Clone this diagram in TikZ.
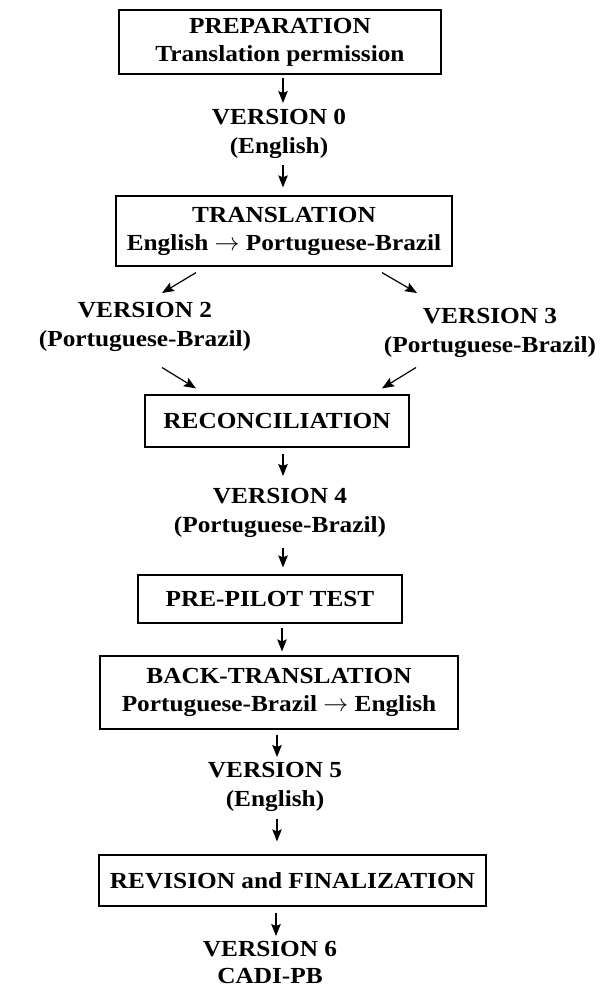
\documentclass[tikz,border=0pt]{standalone}
\usepackage{fontspec}
\setmainfont{Liberation Serif}[FakeStretch=1.1]
\usetikzlibrary{arrows.meta,calc}
\tikzset{
  box/.style={draw, line width=1.2pt, rectangle, align=center, inner sep=0pt, font=\fontsize{23}{28}\selectfont\bfseries},
  lbl/.style={align=center, inner sep=0pt, anchor=north, font=\fontsize{23}{29}\selectfont\bfseries},
  arr/.style={line width=1.2pt, -{Stealth[length=12pt,width=9.5pt,inset=2pt]}}
}
\begin{document}
\begin{tikzpicture}[x=1pt,y=-1pt]
\useasboundingbox (0,0) rectangle (600,990);
\node[box, minimum width=322pt, minimum height=64pt] (prep) at (280,42) {PREPARATION\\Translation permission};
\node[lbl] (v0) at (279,109.5) {VERSION 0\\(English)};
\node[box, minimum width=336pt, minimum height=70pt] (trans) at (284,231) {TRANSLATION\\English $\rightarrow$ Portuguese-Brazil};
\node[lbl] (v2) at (145,302.5) {VERSION 2\\(Portuguese-Brazil)};
\node[lbl] (v3) at (490,308.5) {VERSION 3\\(Portuguese-Brazil)};
\node[box, minimum width=264pt, minimum height=52pt] (rec) at (277,421) {RECONCILIATION};
\node[lbl] (v4) at (280,488.5) {VERSION 4\\(Portuguese-Brazil)};
\node[box, minimum width=264pt, minimum height=48pt] (pre) at (270,599) {PRE-PILOT TEST};
\node[box, minimum width=358pt, minimum height=73pt] (back) at (279,692.5) {BACK-TRANSLATION\\Portuguese-Brazil $\rightarrow$ English};
\node[lbl] (v5) at (275,762.5) {VERSION 5\\(English)};
\node[box, minimum width=387pt, minimum height=51pt] (rev) at (292.5,880.5) {REVISION and FINALIZATION};
\node[lbl, font=\fontsize{23}{27.5}\selectfont\bfseries] (v6) at (270,941) {VERSION 6\\CADI-PB};

\draw[arr] ($(prep.south)+(3,3)$) -- ($(v0.north)+(4,-6.5)$);
\draw[arr] ($(v0.south)+(4,6)$) -- ($(trans.north)+(-1,-8)$);
\draw[arr] ($(trans.south)+(-88,6)$) -- ($(v2.north)+(17,-9.5)$);
\draw[arr] ($(trans.south)+(98,6)$) -- ($(v3.north)+(-73,-15.5)$);
\draw[arr] ($(v2.south)+(17,15.3)$) -- ($(rec.north)+(-81,-6)$);
\draw[arr] ($(v3.south)+(-74,9.3)$) -- ($(rec.north)+(105,-6)$);
\draw[arr] ($(rec.south)+(6,6)$) -- ($(v4.north)+(3,-12.5)$);
\draw[arr] ($(v4.south)+(3,9.3)$) -- ($(pre.north)+(13,-7)$);
\draw[arr] ($(pre.south)+(12,4)$) -- ($(back.north)+(3,-4)$);
\draw[arr] ($(back.south)+(-2,5)$) -- ($(v5.north)+(2,-5.5)$);
\draw[arr] ($(v5.south)+(2,6.3)$) -- ($(rev.north)+(-15.5,-13)$);
\draw[arr] ($(rev.south)+(-16.5,6)$) -- ($(v6.north)+(6,-5)$);
\end{tikzpicture}
\end{document}
